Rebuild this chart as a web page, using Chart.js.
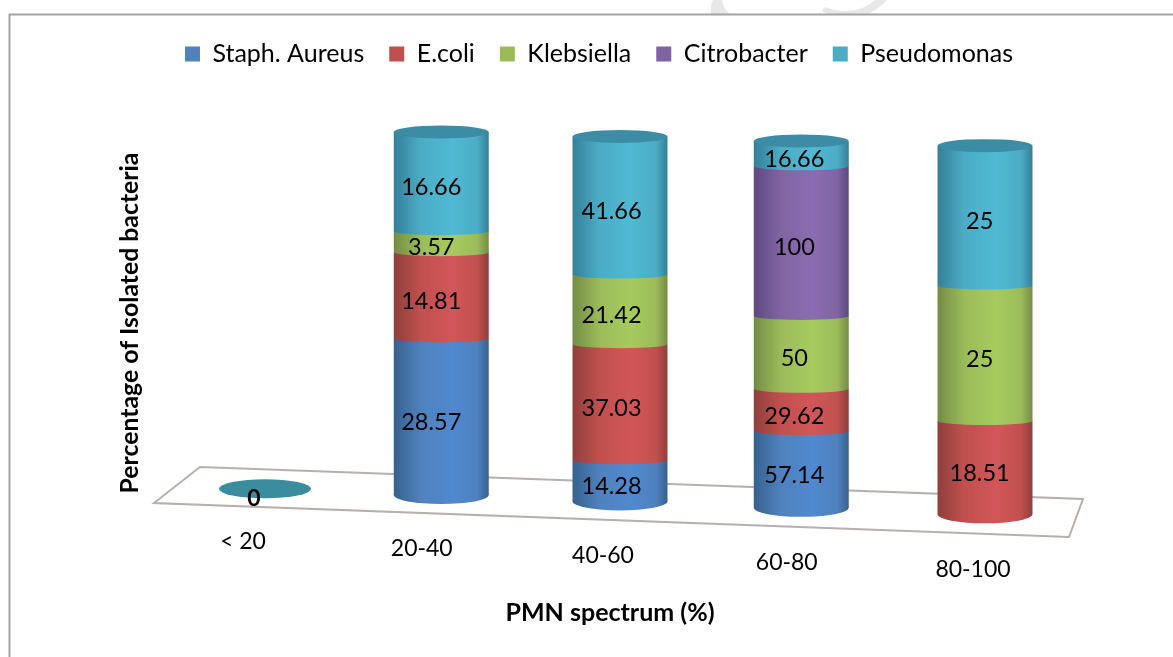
<!DOCTYPE html>
<html><head><meta charset="utf-8">
<style>html,body{margin:0;padding:0;background:#fff}canvas{display:block}</style>
<script src="https://cdn.jsdelivr.net/npm/chart.js@4"></script>
</head><body><canvas id="c" width="1173" height="657"></canvas>
<script>
const categories = ['< 20','20-40','40-60','60-80','80-100'];
const staph       = [0,28.57,14.28,57.14,0];
const ecoli       = [0,14.81,37.03,29.62,18.51];
const klebsiella  = [0,3.57,21.42,50,25];
const citrobacter = [0,0,0,100,0];
const pseudomonas = [0,16.66,41.66,16.66,25];
const seriesNames = ['Staph. Aureus','E.coli','Klebsiella','Citrobacter','Pseudomonas'];
const seriesValues = [staph,ecoli,klebsiella,citrobacter,pseudomonas];
const flatColors = ['#4F81BD','#C0504D','#9BBB59','#8064A2','#4BACC6'];
const darkColors = ['#35618f','#8f3f3d','#748c45','#5d4980','#347f98'];
const lightColors= ['#5089cf','#d25659','#a7cb5f','#8b6cb1','#50b9d3'];
const FONT = 'Lato, Carlito, sans-serif';

const totals = categories.map((_,i)=>seriesValues.reduce((s,a)=>s+a[i],0));
const share = arr => arr.map((v,i)=> totals[i] ? v/totals[i]*100 : 0);

/* the 3-D view: maps a flat category/value position on to the tilted floor */
function viewX(chart, px){
  const a = chart.chartArea;
  const t = (px-a.left)/a.width*categories.length-0.5;
  return 265+175*t+1.25*t*t;
}
const floorY = x => 495+0.0355*(x-440);
const roofY  = x => 132+0.025*(x-440);
function viewY(chart, py, x){
  const a = chart.chartArea;
  const f = Math.pow(Math.max(0,(a.bottom-py)/(a.bottom-a.top)),1.05);
  return floorY(x)-f*(floorY(x)-roofY(x));
}
function shade(ctx, x, w, i){
  const g = ctx.createLinearGradient(x-w/2,0,x+w/2,0);
  g.addColorStop(0,darkColors[i]);
  g.addColorStop(0.28,flatColors[i]);
  g.addColorStop(0.62,lightColors[i]);
  g.addColorStop(0.88,flatColors[i]);
  g.addColorStop(1,darkColors[i]);
  return g;
}
const view3d = {
  id:'view3d',
  afterLayout(chart){
    const l = chart.legend;
    const w = l.right-l.left;
    const shift = 599-(l.left+l.right)/2;
    l.left += shift; l.right = l.left+w;
  },
  afterDatasetsUpdate(chart){
    chart.data.datasets.forEach((d,di)=>{
      chart.getDatasetMeta(di).data.forEach(el=>{
        const x = viewX(chart, el.x);
        el.y = viewY(chart, el.y, x);
        el.base = viewY(chart, el.base, x);
        el.x = x;
      });
    });
  },
  beforeDraw(chart){
    const {ctx} = chart;
    ctx.save();
    /* faint watermark cut off by the frame */
    ctx.fillStyle='#e8e8e8';
    ctx.beginPath();
    ctx.moveTo(713,0); ctx.lineTo(722,0); ctx.quadraticCurveTo(723,8,730,14); ctx.lineTo(711,14); ctx.quadraticCurveTo(710,6,713,0); ctx.closePath();
    ctx.fill();
    ctx.beginPath();
    ctx.moveTo(825,7); ctx.lineTo(822,11); ctx.lineTo(827,14); ctx.lineTo(868,14); ctx.quadraticCurveTo(880,8,887,0); ctx.lineTo(875,0); ctx.quadraticCurveTo(855,18,825,7); ctx.closePath();
    ctx.fill();
    ctx.strokeStyle='#a3a3a3'; ctx.lineWidth=2;
    ctx.beginPath(); ctx.moveTo(9.5,657); ctx.lineTo(9.5,14.5); ctx.lineTo(1173,14.5); ctx.stroke();
    ctx.restore();
    const items = chart.scales.x.getLabelItems();
    items.forEach((it,i)=>{
      const x = viewX(chart, chart.scales.x.getPixelForTick(i));
      it.textOffset = 0;
      it.options.textBaseline='middle';
      it.options.textAlign='center';
      it.options.translation=[x-22+2.5*i, 542+7*i];
    });
  },
  beforeDatasetsDraw(chart){
    const {ctx} = chart;
    ctx.save();
    ctx.strokeStyle='#b5b0ac'; ctx.lineWidth=2;
    ctx.beginPath();
    ctx.moveTo(200,467); ctx.lineTo(154,503); ctx.lineTo(1069,537); ctx.lineTo(1083,499); ctx.closePath();
    ctx.stroke();
    ctx.restore();
  },
  afterDatasetsDraw(chart){
    const {ctx} = chart;
    ctx.save();
    categories.forEach((_,ci)=>{
      let seen=false, lastEl=null;
      seriesValues.forEach((vals,si)=>{
        const el = chart.getDatasetMeta(si).data[ci];
        if(!vals[ci]) return;
        ctx.fillStyle = shade(ctx, el.x, el.width, si);
        ctx.beginPath();
        ctx.ellipse(el.x, el.base, el.width/2, seen ? 4 : 9, 0, 0, Math.PI*2);
        ctx.fill();
        seen=true; lastEl=el;
      });
      if(lastEl){
        ctx.fillStyle='#3d8ca6';
        ctx.beginPath();
        ctx.ellipse(lastEl.x,lastEl.y,lastEl.width/2,6.5,0,0,Math.PI*2);
        ctx.fill();
      } else {
        const el = chart.getDatasetMeta(0).data[ci];
        ctx.fillStyle='#3c8c9f';
        ctx.beginPath();
        ctx.ellipse(el.x,el.base,el.width*0.485,9.5,0,0,Math.PI*2);
        ctx.fill();
        ctx.fillStyle='#000';
        ctx.font='bold 23px '+FONT;
        ctx.textAlign='center'; ctx.textBaseline='middle';
        ctx.fillText('0',el.x-11,el.base+10);
      }
    });
    ctx.fillStyle='#000';
    ctx.font='23.5px '+FONT;
    ctx.textAlign='center'; ctx.textBaseline='middle';
    seriesValues.forEach((vals,si)=>{
      vals.forEach((v,ci)=>{
        if(!v) return;
        const el = chart.getDatasetMeta(si).data[ci];
        ctx.fillText(String(v), el.x-10+0.0085*(el.x-440), (el.y+el.base)/2+6);
      });
    });
    ctx.restore();
  }
};

new Chart(document.getElementById('c'),{
  type:'bar',
  data:{labels:categories,datasets:seriesNames.map((n,i)=>({
    label:n,
    data:share(seriesValues[i]),
    backgroundColor:c=>{
      if(c.dataIndex===undefined||!c.chart.chartArea) return flatColors[i];
      const x = viewX(c.chart,c.chart.scales.x.getPixelForValue(c.dataIndex));
      const w = c.chart.chartArea.width/categories.length*0.515;
      return shade(c.chart.ctx,x,w,i);
    },
    borderWidth:0
  }))},
  options:{
    responsive:false,animation:false,
    layout:{padding:{left:115,right:102,top:16.5,bottom:29}},
    plugins:{
      tooltip:{enabled:false},
      legend:{position:'top',labels:{
        boxWidth:15,boxHeight:15,padding:25,color:'#000',font:{family:FONT,size:25},
        generateLabels(chart){
          return Chart.defaults.plugins.legend.labels.generateLabels(chart).map((it,i)=>
            Object.assign(it,{fillStyle:flatColors[i],strokeStyle:flatColors[i],lineWidth:0}));
        }
      }}
    },
    datasets:{bar:{categoryPercentage:1,barPercentage:0.515}},
    scales:{
      x:{stacked:true,grid:{display:false},border:{display:false},
        afterFit(s){s.height=58.5;s._computeLabelArea=()=>undefined;},
        ticks:{autoSkip:false,maxRotation:0,color:'#000',font:{family:FONT,size:23}},
        title:{display:true,text:'PMN spectrum (%)',color:'#000',font:{family:FONT,size:25,weight:'bold'},padding:0}},
      y:{stacked:true,min:0,max:100,grid:{display:false},border:{display:false},
        afterFit(s){s.width=34;},
        ticks:{display:false},
        title:{display:true,text:'Percentage of Isolated bacteria',color:'#000',font:{family:FONT,size:24.8,weight:'bold'},padding:0}}
    }
  },
  plugins:[view3d]
});
</script></body></html>
